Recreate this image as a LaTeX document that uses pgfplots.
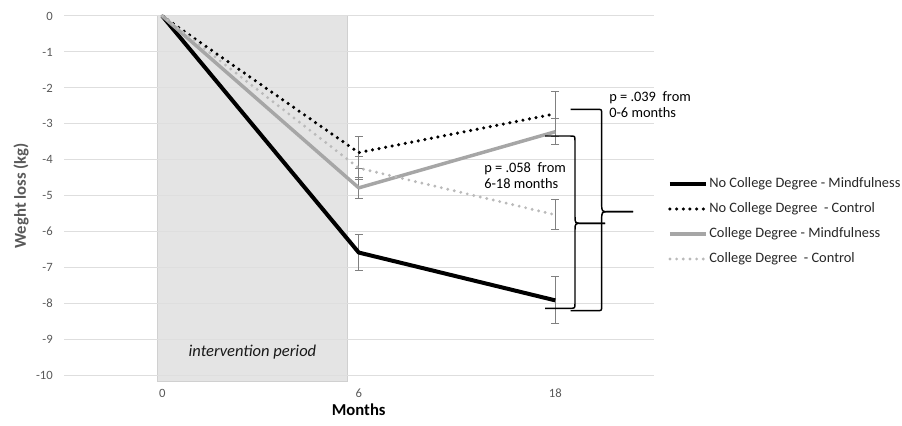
\documentclass[border=0pt]{standalone}
\usepackage{pgfplots}
\pgfplotsset{compat=1.18}
\usepackage{fontspec}
\setmainfont{Carlito}
\definecolor{tickgray}{HTML}{595959}
\definecolor{gridgray}{HTML}{DEDEDE}
\definecolor{shadefill}{HTML}{E4E4E4}
\definecolor{shadedraw}{HTML}{D0D0D0}
\definecolor{graysolid}{HTML}{A6A6A6}
\definecolor{graydot}{HTML}{BABABA}
\definecolor{errgray}{HTML}{808080}
\begin{document}
\begin{tikzpicture}
\begin{axis}[
  set layers,
  scale only axis,
  width=442.125pt, height=269.625pt,
  at={(48pt,37.125pt)}, anchor=south west,
  xmin=-0.5, xmax=2.5, ymin=-10, ymax=0,
  xtick={0,1,2}, xticklabels={0,6,18},
  ytick={-10,-9,-8,-7,-6,-5,-4,-3,-2,-1,0},
  ymajorgrids, grid style={gridgray, line width=0.75pt},
  axis line style={draw=none},
  major tick length=0pt,
  tick style={draw=none},
  clip=false,
  /pgf/number format/assume math mode=true,
  ticklabel style={font=\fontsize{9.5}{11}\selectfont, text=tickgray},
  xticklabel style={anchor=center, yshift=-13.1pt},
  yticklabel style={anchor=east, inner sep=0pt, xshift=-8.25pt},
  xlabel={Months}, ylabel={Weght loss (kg)},
  xlabel style={at={(axis description cs:0.5,-0.096)}, anchor=center, font=\fontsize{12.5}{15}\selectfont\bfseries},
  ylabel style={at={(axis description cs:-0.0729,0.5)}, anchor=center, font=\fontsize{12.5}{15}\selectfont\bfseries, text=tickgray},
  legend style={at={(axis description cs:1.0245,0.4284)}, anchor=west, draw=none, fill=none,
    inner sep=0pt, outer sep=0pt, font=\fontsize{10.8}{13}\selectfont, text=black!85,
    row sep=7.75pt, nodes={inner sep=0pt, inner xsep=1pt, text height=8pt, text depth=3pt}},
  legend cell align=left,
  legend image code/.code={\draw[#1] (0pt,0pt) -- (27pt,0pt);},
  errb/.style={draw=none, mark=none, forget plot,
    error bars/.cd, y dir=both, y explicit,
    error bar style={draw=errgray, line width=0.75pt, solid},
    error mark options={draw=errgray, line width=0.75pt, mark size=3pt, solid, rotate=90}},
]
% intervention period shading
\addplot[on layer=axis background, fill=shadefill, draw=shadedraw, line width=0.75pt, forget plot]
  coordinates {(-0.024,0) (0.943,0) (0.943,-10.18) (-0.024,-10.18) (-0.024,0)};

% error bars
\addplot[errb] coordinates {(1,-6.58) +- (0,0.51) (2,-7.91) +- (0,0.65)};
\addplot[errb] coordinates {(1,-3.80) +- (0,0.44) (2,-2.72) +- (0,0.62)};
\addplot[errb] coordinates {(1,-4.78) +- (0,0.29) (2,-3.22) +- (0,0.36)};
\addplot[errb] coordinates {(1,-4.23) +- (0,0.32) (2,-5.53) +- (0,0.42)};

% series
\addplot[black, line width=3pt, line join=round] coordinates {(0,0) (1,-6.58) (2,-7.91)};
\addlegendentry{No College Degree - Mindfulness}
\addplot[black, line width=2.6pt, line cap=round, dash pattern=on 0pt off 5pt] coordinates {(0,0) (1,-3.80) (2,-2.72)};
\addlegendentry{No College Degree~ - Control}
\addplot[graysolid, line width=2.6pt, line join=round] coordinates {(0,0) (1,-4.78) (2,-3.22)};
\addlegendentry{College Degree - Mindfulness}
\addplot[graydot, line width=2.4pt, line cap=round, dash pattern=on 0pt off 5pt] coordinates {(0,0) (1,-4.23) (2,-5.53)};
\addlegendentry{College Degree~ - Control}

\node[font=\fontsize{12.4}{15}\selectfont\itshape, text=black!90] at (axis cs:0.459,-9.35) {intervention period};
\end{axis}

\begin{scope}[x=0.75pt, y=-0.75pt, yshift=318.75pt]
  % outer brace
  \draw[line width=1.1pt] (570.7,109.3) -- (596.7,109.3) .. controls (601.7,109.3) .. (601.7,114.3)
     -- (601.7,204) .. controls (601.7,211.7) .. (609,211.7) -- (633,211.7);
  \draw[line width=1.1pt] (633,211.7) -- (609,211.7) .. controls (601.7,211.7) .. (601.7,219.4)
     -- (601.7,305.7) .. controls (601.7,310.7) .. (596.7,310.7) -- (570.7,310.7);
  % inner brace
  \draw[line width=1.1pt] (545,136) -- (570,136) .. controls (575,136) .. (575,141)
     -- (575,216) .. controls (575,223.3) .. (582,223.3) -- (605,223.3);
  \draw[line width=1.1pt] (605,223.3) -- (582,223.3) .. controls (575,223.3) .. (575,230.6)
     -- (575,303) .. controls (575,308.3) .. (570,308.3) -- (545,308.3);
  % annotations
  \node[anchor=west, inner sep=0pt, align=left, font=\fontsize{10.8}{12}\selectfont] at (609,105) {p = .039~ from\\0-6 months};
  \node[anchor=west, inner sep=0pt, align=left, font=\fontsize{10.8}{12}\selectfont] at (484,176) {p = .058~ from\\6-18 months};
\end{scope}
\pgfresetboundingbox
\path[use as bounding box] (0,0) rectangle (676.5pt,318.75pt);
\end{tikzpicture}
\end{document}
